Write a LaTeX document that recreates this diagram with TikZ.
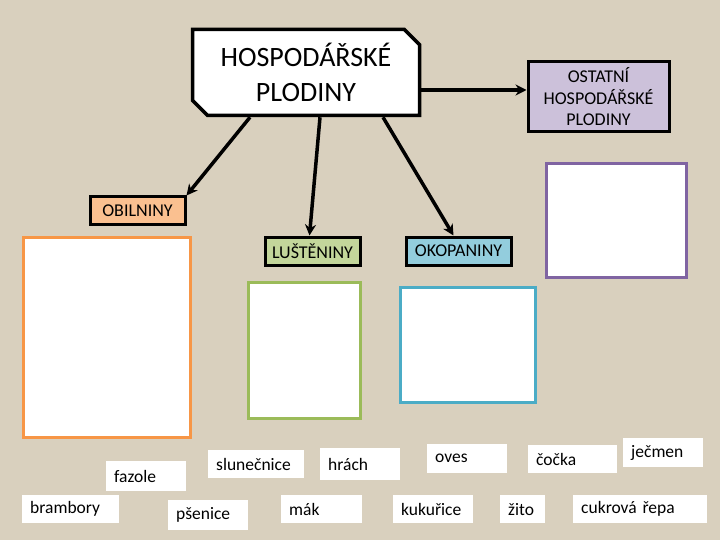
\documentclass[tikz,border=0pt]{standalone}
\usepackage{fontspec}
\setmainfont{Carlito}
\usetikzlibrary{arrows.meta,shapes.misc}
\definecolor{canvas}{RGB}{217,208,190}
\definecolor{obilfill}{RGB}{250,192,144}
\definecolor{lustfill}{RGB}{195,214,155}
\definecolor{okopfill}{RGB}{147,205,221}
\definecolor{ostafill}{RGB}{204,193,218}
\definecolor{obilline}{RGB}{247,150,70}
\definecolor{lustline}{RGB}{155,187,89}
\definecolor{okopline}{RGB}{75,172,198}
\definecolor{ostaline}{RGB}{128,100,162}

\tikzset{
  head/.style={draw, line width=3pt, fill=#1, inner sep=0pt, align=center,
    font=\fontsize{18}{21.5}\selectfont},
  sheet/.style={draw=#1, line width=3pt, fill=white, inner sep=0pt},
  word/.style={fill=white, anchor=north west, inner xsep=8pt, inner ysep=0pt,
    text width=#1, font=\fontsize{17.5}{20}\selectfont},
  arr/.style={line width=3.5pt, -{Stealth[length=11pt,width=11pt]}}
}

\begin{document}
\begin{tikzpicture}[x=1pt,y=-1pt]
\fill[canvas] (0,0) rectangle (720,540);
\useasboundingbox (0,0) rectangle (720,540);

% main box
\node[draw, line width=3.5pt, fill=white, chamfered rectangle,
  chamfered rectangle corners={north east,south west},
  chamfered rectangle xsep=12pt, inner sep=0pt,
  minimum width=227, minimum height=86, align=center,
  font=\fontsize{28}{35}\selectfont] (plodiny) at (306,72.5) {HOSPODÁŘSKÉ\\PLODINY};

% groups
\node[head=ostafill, minimum width=141, minimum height=70] (ostatni) at (598.5,97) {OSTATNÍ\\HOSPODÁŘSKÉ\\PLODINY};
\node[head=obilfill, minimum width=95, minimum height=28] (obilniny) at (137.5,211) {OBILNINY};
\node[head=lustfill, minimum width=95, minimum height=28] (lusteniny) at (312.5,251) {LUŠTĚNINY};
\node[head=okopfill, minimum width=105, minimum height=28] (okopaniny) at (458.5,251) {OKOPANINY};

% empty sheets
\node[sheet=obilline, minimum width=167, minimum height=200] (obilsheet) at (106.5,337) {};
\node[sheet=lustline, minimum width=112, minimum height=136] (lustsheet) at (304,350) {};
\node[sheet=okopline, minimum width=135, minimum height=115] (okopsheet) at (467.5,344.5) {};
\node[sheet=ostaline, minimum width=140, minimum height=113] (ostasheet) at (616,220.5) {};

% arrows
\draw[arr] ([xshift=-56pt]plodiny.south) -- (obilniny.north east);
\draw[arr] ([xshift=14pt]plodiny.south) -- ([xshift=-3pt]lusteniny.north);
\draw[arr] ([xshift=77pt]plodiny.south) -- ([xshift=-5pt]okopaniny.north);
\draw[arr] ([yshift=-17.5pt]plodiny.east) -- ([yshift=-17.5pt]plodiny.east -| ostatni.west);

% words
\node[word=64pt, minimum height=30] (fazole) at (106,461) {fazole};
\node[word=81pt, minimum height=28] (brambory) at (22,495) {brambory};
\node[word=64pt, minimum height=30] (psenice) at (168,500) {pšenice};
\node[word=80pt, minimum height=28] (slunecnice) at (208,450) {slunečnice};
\node[word=64pt, minimum height=32] (hrach) at (320,448) {hrách};
\node[word=65pt, minimum height=28] (mak) at (281,495) {mák};
\node[word=64pt, minimum height=29] (oves) at (427,444) {oves};
\node[word=73pt, minimum height=28] (cocka) at (528,445) {čočka};
\node[word=64pt, minimum height=29] (jecmen) at (623,438) {ječmen};
\node[word=64pt, minimum height=28] (kukurice) at (393,495) {kukuřice};
\node[word=29pt, minimum height=28] (zito) at (500,495) {žito};
\node[word=118pt, minimum height=28] (repa) at (573,495) {cukrová řepa};
\end{tikzpicture}
\end{document}
